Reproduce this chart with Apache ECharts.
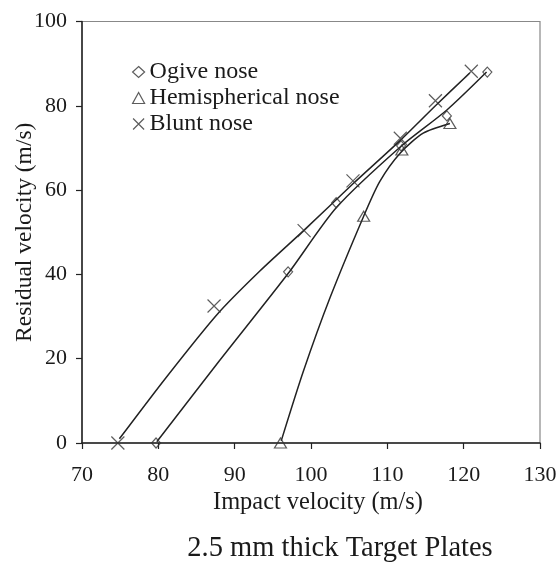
<!DOCTYPE html>
<html>
<head>
<meta charset="utf-8">
<script src="https://cdn.jsdelivr.net/npm/echarts@6/dist/echarts.min.js"></script>
<style>html,body{margin:0;padding:0;background:#fff}#c{width:559px;height:563px}</style>
</head>
<body>
<div id="c"></div>
<script>
var seriesNames = ['Ogive nose', 'Hemispherical nose', 'Blunt nose'];
// measured points
var ogive = [[79.7,0],[97,40.6],[103.3,57],[111.8,70.5],[117.8,77.6],[123.1,88]];
var hemispherical = [[96,0],[106.9,53.8],[111.9,69.5],[118.2,75.8]];
var blunt = [[74.7,0],[87.3,32.5],[99.1,50.4],[105.5,62.2],[111.7,72.3],[116.3,81.2],[121,88.2]];
// trend curves
var ogiveCurve = [[79.8,0.3],[88,19.5],[97,40.2],[103.3,55.8],[111.8,70.4],[117.8,79],[123,88]];
var hemisphericalCurve = [[96.1,0.5],[99,17],[102.5,34.5],[106.9,53.8],[109,62],[111.7,68.8],[114.7,73.5],[118.2,75.8]];
var bluntCurve = [[74.9,1],[81,15.5],[87.7,30.5],[93.3,40.8],[99.1,50.5],[105.5,61.5],[111.7,71.8],[116.3,80],[120.8,87.8]];
var xTicks = [70,80,90,100,110,120,130];
var yTicks = [0,20,40,60,80,100];

var FONT = '"Liberation Serif","Times New Roman",serif';
var INK = '#1a1a1a';
var crossPath = 'path://M0,0L10,10M10,0L0,10';
var symbols = ['diamond', 'triangle', crossPath];
var sizes = [[9,10], [12,10], 13];
var data = [ogive, hemispherical, blunt];
var curves = [ogiveCurve, hemisphericalCurve, bluntCurve];

var series = [];
curves.forEach(function (d, i) {
  series.push({
    name: seriesNames[i] + ' fit', type: 'line', data: d, smooth: 0.25,
    symbol: 'none', silent: true, z: 2,
    lineStyle: {color: '#222', width: 1.5}
  });
});
data.forEach(function (d, i) {
  series.push({
    name: seriesNames[i], type: 'scatter', data: d, symbol: symbols[i],
    symbolSize: sizes[i], z: 3,
    itemStyle: {color: 'rgba(0,0,0,0)', borderColor: '#333', borderWidth: 1.2}
  });
});

var chart = echarts.init(document.getElementById('c'), null, {renderer: 'canvas'});
chart.setOption({
  animation: false,
  backgroundColor: '#fff',
  title: {
    text: '2.5 mm thick Target Plates', left: 335, top: 529, textAlign: 'center',
    textStyle: {fontFamily: FONT, fontSize: 28.5, fontWeight: 'normal', color: INK}
  },
  legend: {
    orient: 'vertical', left: 127, top: 55, itemGap: 2,
    itemWidth: 12, itemHeight: 11, itemTextGap: 12,
    data: seriesNames.map(function (n, i) {
      return {name: n, icon: symbols[i]};
    }),
    itemStyle: {color: 'rgba(0,0,0,0)', borderColor: '#333', borderWidth: 1.2},
    textStyle: {fontFamily: FONT, fontSize: 24, color: INK}
  },
  grid: {left: 82, right: 19, top: 21.5, bottom: 120, outerBoundsMode: 'none',
    show: true, borderColor: '#888', borderWidth: 1.2},
  xAxis: {
    type: 'value', min: 70, max: 130, interval: 10,
    name: 'Impact velocity (m/s)', nameLocation: 'middle', nameGap: 47,
    nameTextStyle: {fontFamily: FONT, fontSize: 24.4, color: INK, padding: [0,0,0,14]},
    axisLine: {show: true, lineStyle: {color: '#222', width: 1.5}},
    axisTick: {show: true, inside: false, length: 6, lineStyle: {color: '#222', width: 1.2}},
    axisLabel: {fontFamily: FONT, fontSize: 22, color: INK, margin: 21,
      formatter: function (v) { return xTicks.indexOf(v) >= 0 ? String(v) : ''; }},
    splitLine: {show: false}
  },
  yAxis: {
    type: 'value', min: 0, max: 100, interval: 20,
    name: 'Residual velocity (m/s)', nameLocation: 'middle', nameGap: 45,
    nameMoveOverlap: false,
    nameTextStyle: {fontFamily: FONT, fontSize: 23.5, color: INK},
    axisLine: {show: true, lineStyle: {color: '#222', width: 1.5}},
    axisTick: {show: true, inside: false, length: 6, lineStyle: {color: '#222', width: 1.2}},
    axisLabel: {fontFamily: FONT, fontSize: 22, color: INK, margin: 15,
      formatter: function (v) { return yTicks.indexOf(v) >= 0 ? String(v) : ''; }},
    splitLine: {show: false}
  },
  series: series
});
</script>
</body>
</html>
